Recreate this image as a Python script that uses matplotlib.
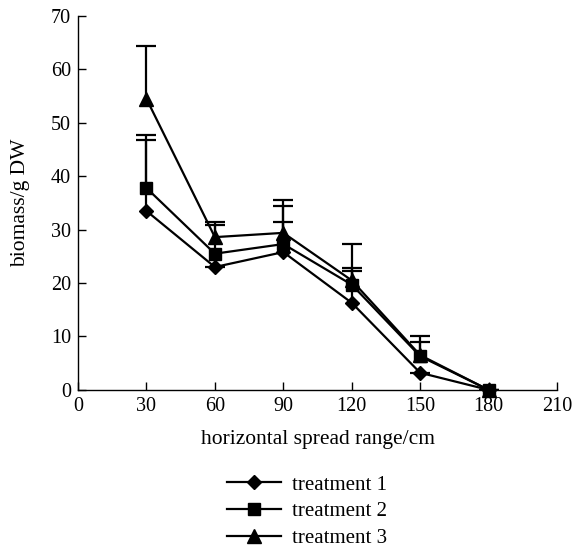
import matplotlib

matplotlib.use("Agg")
import matplotlib.pyplot as plt
from matplotlib.lines import Line2D

plt.rcParams["font.family"] = ["Liberation Serif", "DejaVu Serif"]

# horizontal spread range (cm)
distance = [30, 60, 90, 120, 150, 180]

# biomass means (g DW)
treatment_1 = [33.5, 23.0, 25.8, 16.3, 3.2, 0.0]
treatment_2 = [37.8, 25.5, 27.3, 19.7, 6.3, 0.0]
treatment_3 = [54.5, 28.6, 29.4, 20.5, 6.5, 0.0]

# upper ends of the error bars
top_1 = [46.7, 23.0, 31.5, 22.2, 3.2, 0.0]
top_2 = [47.8, 30.8, 34.5, 22.8, 8.9, 0.0]
top_3 = [64.3, 31.5, 35.6, 27.4, 10.1, 0.0]

series = [
    ("treatment 1", treatment_1, top_1, "D", 7.5),
    ("treatment 2", treatment_2, top_2, "s", 8.5),
    ("treatment 3", treatment_3, top_3, "^", 9.5),
]

fig = plt.figure(figsize=(5.75, 5.53), dpi=100)
ax = fig.add_axes([0.1357, 0.295, 0.833, 0.676])

for label, means, tops, marker, size in series:
    # upper-only error bars
    ax.vlines(distance, means, tops, color="black", linewidth=1.6, zorder=2)
    ax.plot(distance, tops, linestyle="none", marker="_", markersize=15,
            markeredgewidth=1.6, color="black", zorder=2)
    ax.plot(distance, means, color="black", linewidth=1.6, marker=marker,
            markersize=size, label=label, clip_on=False, zorder=3)

ax.set_xlim(0, 210)
ax.set_ylim(0, 70)
ax.set_xticks(range(0, 211, 30))
ax.set_yticks(range(0, 71, 10))
ax.spines["top"].set_visible(False)
ax.spines["right"].set_visible(False)
for side in ("left", "bottom"):
    ax.spines[side].set_linewidth(1.0)
ax.tick_params(direction="in", length=6, width=1.0, labelsize=14.5, pad=5)
ax.set_xlabel("horizontal spread range/cm", fontsize=15.5, labelpad=10)
ax.set_ylabel("biomass/g DW", fontsize=15.5, labelpad=15)

handles = [Line2D([], [], color="black", linewidth=1.6, marker=m, markersize=s)
           for _, _, _, m, s in series]
fig.legend(handles, [s[0] for s in series], loc="upper center",
           bbox_to_anchor=(0.534, 0.175), frameon=False, fontsize=15,
           handlelength=2.6, labelspacing=0.35, handletextpad=0.55)

fig.savefig("out.png", dpi=100)
